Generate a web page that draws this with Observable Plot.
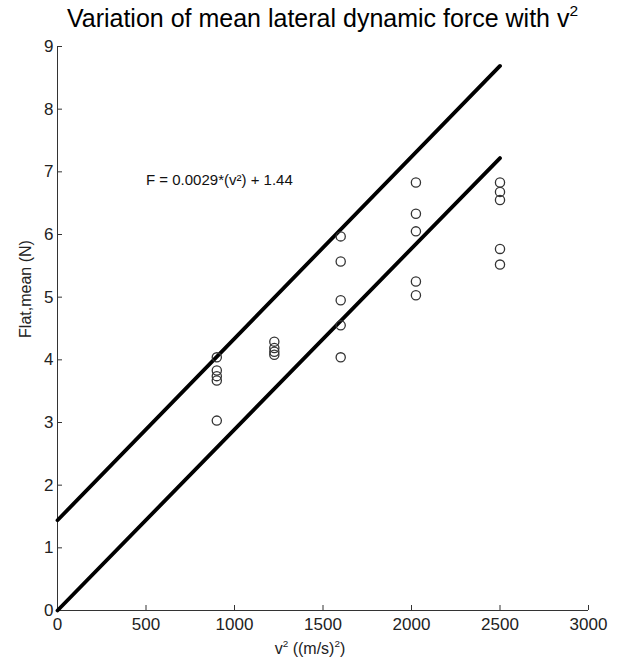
<!DOCTYPE html>
<html><head><meta charset="utf-8">
<script src="https://cdn.jsdelivr.net/npm/d3@7"></script>
<script src="https://cdn.jsdelivr.net/npm/@observablehq/plot@0.6"></script>
<style>
body{margin:0;background:#fff;font-family:"Liberation Sans",Arial,sans-serif;color:#000;}
#wrap{position:relative;width:624px;height:670px;overflow:hidden;}
#title{position:absolute;left:57px;width:531px;top:3px;text-align:center;font-size:25px;line-height:30px;white-space:nowrap;}
#title sup, #xlabel sup{font-size:0.62em;line-height:0;position:relative;top:-0.1em;}
#chart{position:absolute;left:0;top:40px;}
#xlabel{position:absolute;left:210px;width:200px;top:639px;text-align:center;font-size:16px;line-height:20px;white-space:nowrap;color:#222;}
#ylabel{position:absolute;left:-74px;top:279px;width:200px;text-align:center;font-size:16px;line-height:20px;transform:rotate(-90deg);white-space:nowrap;color:#222;}
svg{overflow:visible;}
</style></head><body>
<div id="wrap">
  <div id="title">Variation of mean lateral dynamic force with v<sup>2</sup></div>
  <div id="chart"></div>
  <div id="xlabel">v<sup>2</sup> ((m/s)<sup>2</sup>)</div>
  <div id="ylabel"></div>
</div>
<script>
// data
const speedSquared = [900, 1225, 1600, 2025, 2500];
const forceGroups = [
  [4.04, 3.83, 3.74, 3.67, 3.03],
  [4.29, 4.19, 4.13, 4.08],
  [5.97, 5.57, 4.95, 4.55, 4.04],
  [6.83, 6.33, 6.05, 5.25, 5.03],
  [6.83, 6.68, 6.55, 5.77, 5.52]
];
const lineX = [0, 2500];
const upperLineY = [1.44, 8.69];
const lowerLineY = [0, 7.22];
const equationText = "F = 0.0029*(v\u00B2) + 1.44";
const equationPos = [500, 6.86];
const xTicks = [0, 500, 1000, 1500, 2000, 2500, 3000];
const yTicks = [0, 1, 2, 3, 4, 5, 6, 7, 8, 9];
const yLabel = "Flat,mean (N)";

document.getElementById("ylabel").textContent = yLabel;

const points = speedSquared.flatMap((x, i) => forceGroups[i].map(y => ({x, y})));
const upper = lineX.map((x, i) => ({x, y: upperLineY[i]}));
const lower = lineX.map((x, i) => ({x, y: lowerLineY[i]}));

const plot = Plot.plot({
  width: 624,
  height: 600,
  marginLeft: 57,
  marginRight: 36,
  marginTop: 6,
  marginBottom: 30,
  style: {fontFamily: '"Liberation Sans", Arial, sans-serif', fontSize: "17px", color: "#222", background: "white"},
  x: {domain: [0, 3000], label: null},
  y: {domain: [0, 9], label: null},
  marks: [
    Plot.axisX({ticks: xTicks, tickSize: 0, tickPadding: 7, fontSize: 17, fill: "#222", tickFormat: d => String(d)}),
    Plot.axisX({ticks: xTicks, tickSize: -5, tickFormat: () => "", stroke: "#333"}),
    Plot.axisY({ticks: yTicks, tickSize: 0, tickPadding: 4, fontSize: 17, fill: "#222", tickFormat: d => String(d)}),
    Plot.axisY({ticks: yTicks, tickSize: -5, tickFormat: () => "", stroke: "#333"}),
    Plot.ruleY([0], {stroke: "#333", strokeWidth: 1}),
    Plot.ruleX([0], {stroke: "#333", strokeWidth: 1}),
    Plot.line(upper, {x: "x", y: "y", stroke: "black", strokeWidth: 3.8}),
    Plot.line(lower, {x: "x", y: "y", stroke: "black", strokeWidth: 3.8}),
    Plot.dot(points, {x: "x", y: "y", r: 4.6, stroke: "#333", strokeWidth: 1.3, fill: "none"}),
    Plot.text([equationText], {x: () => equationPos[0], y: () => equationPos[1], text: d => d, textAnchor: "start", fontSize: 15, fill: "#111"})
  ]
});
document.getElementById("chart").appendChild(plot);
</script>
</body></html>
